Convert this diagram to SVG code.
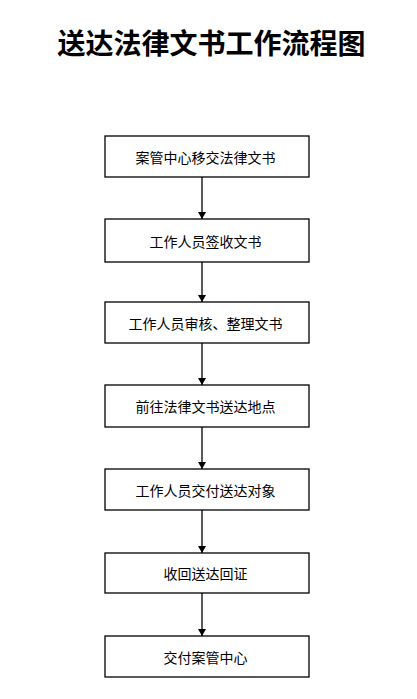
<svg xmlns="http://www.w3.org/2000/svg" width="417" height="699" viewBox="0 0 417 699">
<style>
.box{fill:#fff;stroke:#000;stroke-width:1.3}
.lbl{font-family:"Noto Sans CJK SC","Noto Sans",sans-serif;font-size:14px;fill:#000;text-anchor:middle;dominant-baseline:central}
.title{font-family:"Noto Sans CJK SC","Noto Sans",sans-serif;font-size:28px;font-weight:600;fill:#000;text-anchor:middle;dominant-baseline:central}
.conn{stroke:#000;stroke-width:1.3;fill:none}
</style>
<defs>
<marker id="ah" markerWidth="7" markerHeight="8" refX="7" refY="4" orient="auto" markerUnits="userSpaceOnUse">
<path d="M0,0 L7,4 L0,8 Z" fill="#000"/>
</marker>
</defs>
<rect width="417" height="699" fill="#fff"/>
<text class="title" x="211.5" y="42">送达法律文书工作流程图</text>
<g id="connectors">
<line class="conn" x1="202" y1="177" x2="202" y2="219" marker-end="url(#ah)"/>
<line class="conn" x1="202" y1="262" x2="202" y2="302" marker-end="url(#ah)"/>
<line class="conn" x1="202" y1="343" x2="202" y2="385" marker-end="url(#ah)"/>
<line class="conn" x1="202" y1="427" x2="202" y2="469" marker-end="url(#ah)"/>
<line class="conn" x1="202" y1="510" x2="202" y2="553" marker-end="url(#ah)"/>
<line class="conn" x1="202" y1="593" x2="202" y2="636" marker-end="url(#ah)"/>
</g>
<g id="n1"><rect class="box" x="105" y="136" width="204" height="41"/><text class="lbl" x="205.5" y="156.5">案管中心移交法律文书</text></g>
<g id="n2"><rect class="box" x="105" y="219" width="204" height="43"/><text class="lbl" x="205.5" y="240.5">工作人员签收文书</text></g>
<g id="n3"><rect class="box" x="105" y="302" width="204" height="41"/><text class="lbl" x="205.5" y="322.5">工作人员审核、整理文书</text></g>
<g id="n4"><rect class="box" x="105" y="385" width="204" height="42"/><text class="lbl" x="205.5" y="406">前往法律文书送达地点</text></g>
<g id="n5"><rect class="box" x="105" y="469" width="204" height="41"/><text class="lbl" x="205.5" y="489.5">工作人员交付送达对象</text></g>
<g id="n6"><rect class="box" x="105" y="553" width="204" height="40"/><text class="lbl" x="205.5" y="573">收回送达回证</text></g>
<g id="n7"><rect class="box" x="105" y="636" width="204" height="41"/><text class="lbl" x="205.5" y="656.5">交付案管中心</text></g>
</svg>
